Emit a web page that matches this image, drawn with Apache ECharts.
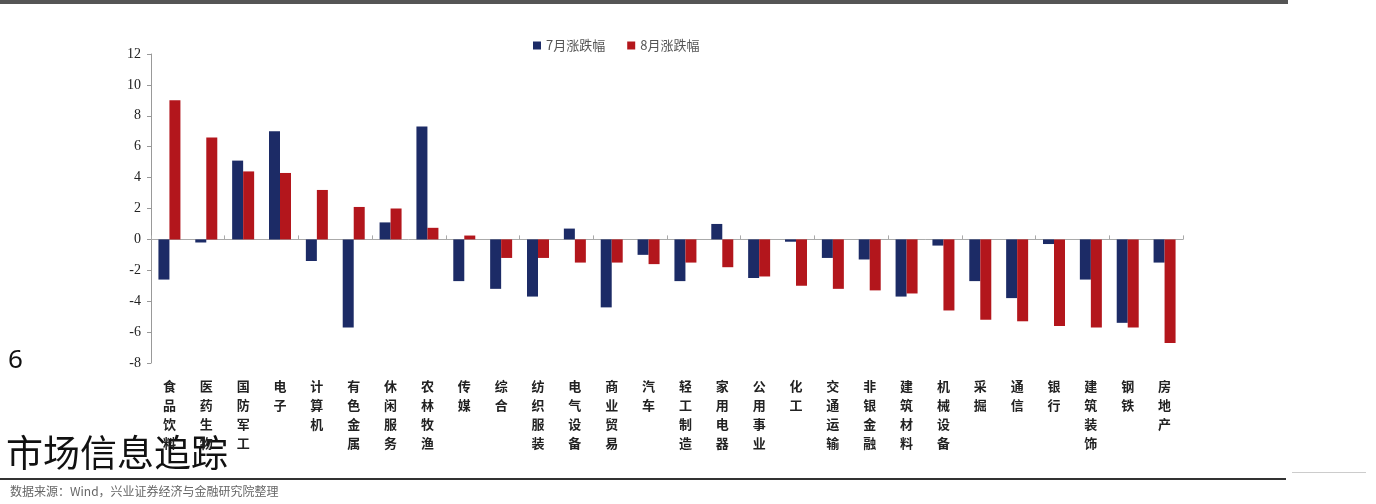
<!DOCTYPE html>
<html><head><meta charset="utf-8">
<script src="https://cdn.jsdelivr.net/npm/echarts@6/dist/echarts.min.js"></script>
<style>html,body{margin:0;padding:0;background:#fff}#c{width:1376px;height:504px}</style>
</head><body><div id="c"></div>
<script>
const categories = ['食品饮料','医药生物','国防军工','电子','计算机','有色金属','休闲服务','农林牧渔','传媒','综合','纺织服装','电气设备','商业贸易','汽车','轻工制造','家用电器','公用事业','化工','交通运输','非银金融','建筑材料','机械设备','采掘','通信','银行','建筑装饰','钢铁','房地产'];
const julyChange = [-2.6,-0.2,5.1,7.0,-1.4,-5.7,1.1,7.3,-2.7,-3.2,-3.7,0.7,-4.4,-1.0,-2.7,1.0,-2.5,-0.15,-1.2,-1.3,-3.7,-0.4,-2.7,-3.8,-0.3,-2.6,-5.4,-1.5];
const augChange  = [9.0,6.6,4.4,4.3,3.2,2.1,2.0,0.75,0.25,-1.2,-1.2,-1.5,-1.5,-1.6,-1.5,-1.8,-2.4,-3.0,-3.2,-3.3,-3.5,-4.6,-5.2,-5.3,-5.6,-5.7,-5.7,-6.7];
const seriesNames = ['7月涨跌幅','8月涨跌幅'];
const yMin = -8, yMax = 12, yStep = 2;

const chart = echarts.init(document.getElementById('c'));
const NAVY = '#1c2b66', RED = '#b3161c';
chart.setOption({
  animation: false,
  backgroundColor: '#fff',
  legend: {
    top: 34, left: 528, itemWidth: 8, itemHeight: 8, itemGap: 22,
    icon: 'rect',
    textStyle: {fontSize: 13, color: '#555', fontFamily: 'Noto Sans CJK SC'},
    data: seriesNames
  },
  grid: {left: 151, right: 193, top: 54, bottom: 141},
  xAxis: [{
    type: 'category', data: categories, position: 'bottom',
    axisLine: {show: false}, axisTick: {show: false},
    axisLabel: {
      interval: 0, margin: 14, color: '#222', fontSize: 13, lineHeight: 19, fontWeight: 'bold',
      fontFamily: 'Noto Sans CJK SC', verticalAlign: 'top',
      formatter: v => v.split('').join('\n')
    }
  }, {
    type: 'category', data: categories, position: 'bottom',
    axisLine: {show: true, onZero: true, onZeroAxisIndex: 0, lineStyle: {color: '#aaa', width: 1}},
    axisTick: {show: true, inside: true, length: 4, lineStyle: {color: '#aaa'}},
    axisLabel: {show: false}
  }],
  yAxis: {
    type: 'value', min: yMin, max: yMax, interval: yStep,
    axisLine: {show: true, lineStyle: {color: '#999'}},
    axisTick: {show: true, length: 4, lineStyle: {color: '#999'}},
    splitLine: {show: false},
    axisLabel: {color: '#222', fontSize: 14, fontFamily: 'Liberation Serif', margin: 10}
  },
  series: [
    {name: seriesNames[0], type: 'bar', data: julyChange, barWidth: 11, barGap: '0%', itemStyle: {color: NAVY}},
    {name: seriesNames[1], type: 'bar', data: augChange, barWidth: 11, barGap: '0%', itemStyle: {color: RED}}
  ],
  graphic: [
    {type: 'rect', shape: {x: 0, y: 0, width: 1288, height: 4}, style: {fill: '#555'}},
    {type: 'rect', shape: {x: 0, y: 478, width: 1286, height: 2}, style: {fill: '#333'}},
    {type: 'text', left: 10, top: 485, style: {text: '数据来源：Wind，兴业证券经济与金融研究院整理', fontSize: 12, fill: '#666', fontFamily: 'Noto Sans CJK SC'}},
    {type: 'text', left: 8, top: 348, style: {text: '6', fontSize: 26, fill: '#111', fontFamily: 'Noto Sans'}},
    {type: 'text', left: 6, top: 434, style: {text: '市场信息追踪', fontSize: 37, fill: '#111', fontFamily: 'Noto Sans CJK SC'}},
    {type: 'rect', shape: {x: 1292, y: 472, width: 74, height: 1}, style: {fill: '#ccc'}}
  ]
});
</script></body></html>
